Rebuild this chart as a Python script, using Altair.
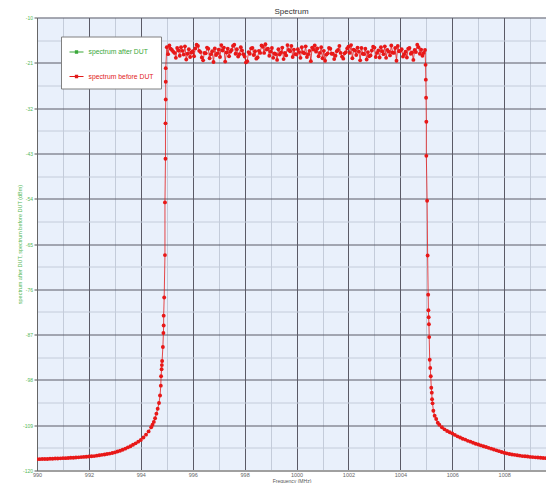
import altair as alt
import pandas as pd

# ---- data ----
series_names = ["spectrum after DUT", "spectrum before DUT"]
series_colors = ["#3aa83a", "#e21b1b"]

left_skirt_freq = [990.0, 990.1, 990.2, 990.3, 990.4, 990.5, 990.6, 990.7, 990.8, 990.9,
                   991.0, 991.1, 991.2, 991.3, 991.4, 991.5, 991.6, 991.7, 991.8, 991.9,
                   992.0, 992.1, 992.2, 992.3, 992.4, 992.5, 992.6, 992.7, 992.8, 992.9,
                   993.0, 993.1, 993.2, 993.3, 993.4, 993.5, 993.6, 993.7, 993.8, 993.9,
                   994.0, 994.1, 994.2, 994.3, 994.4, 994.45, 994.5, 994.55, 994.6, 994.65,
                   994.7, 994.74, 994.77]
left_skirt_db = [-117.25, -117.25, -117.2, -117.2, -117.2, -117.15, -117.15, -117.1, -117.1, -117.05,
                 -117.0, -117.0, -116.95, -116.9, -116.9, -116.85, -116.8, -116.75, -116.7, -116.65,
                 -116.6, -116.55, -116.5, -116.4, -116.3, -116.2, -116.1, -116.0, -115.9, -115.75,
                 -115.6, -115.4, -115.2, -114.95, -114.7, -114.4, -114.1, -113.75, -113.4, -113.0,
                 -112.6, -112.0, -111.3, -110.5, -109.5, -108.9, -108.2, -107.3, -106.2, -105.0,
                 -103.6, -101.8, -99.4]

left_edge_freq = [994.78, 994.80, 994.81, 994.82, 994.85, 994.87, 994.88, 994.88,
                  994.90, 994.93, 994.93, 994.95, 994.95, 994.96, 994.96, 994.96]
left_edge_db = [-97.1, -95.4, -94.4, -93.4, -90.0, -86.6, -84.8, -82.4,
                -78.0, -67.7, -54.9, -44.3, -35.7, -29.9, -25.6, -22.3]

# flat pass band, sampled every 0.05 MHz (two interleaved lists)
flat_freq_a = [995.0, 995.1, 995.2, 995.3, 995.4, 995.5, 995.6, 995.7, 995.8, 995.9,
               996.0, 996.1, 996.2, 996.3, 996.4, 996.5, 996.6, 996.7, 996.8, 996.9,
               997.0, 997.1, 997.2, 997.3, 997.4, 997.5, 997.6, 997.7, 997.8, 997.9,
               998.0, 998.1, 998.2, 998.3, 998.4, 998.5, 998.6, 998.7, 998.8, 998.9,
               999.0, 999.1, 999.2, 999.3, 999.4, 999.5, 999.6, 999.7, 999.8, 999.9,
               1000.0, 1000.1, 1000.2, 1000.3, 1000.4, 1000.5, 1000.6, 1000.7, 1000.8, 1000.9,
               1001.0, 1001.1, 1001.2, 1001.3, 1001.4, 1001.5, 1001.6, 1001.7, 1001.8, 1001.9,
               1002.0, 1002.1, 1002.2, 1002.3, 1002.4, 1002.5, 1002.6, 1002.7, 1002.8, 1002.9,
               1003.0, 1003.1, 1003.2, 1003.3, 1003.4, 1003.5, 1003.6, 1003.7, 1003.8, 1003.9,
               1004.0, 1004.1, 1004.2, 1004.3, 1004.4, 1004.5, 1004.6, 1004.7, 1004.8, 1004.9]
flat_db_a = [-17.2, -16.8, -17.9, -18.6, -17.4, -19.3, -18.1, -17.0, -18.8, -19.6,
             -18.2, -17.5, -16.9, -18.4, -20.4, -18.7, -17.6, -18.9, -20.8, -19.1,
             -17.8, -16.7, -17.3, -18.5, -19.4, -17.9, -16.6, -17.7, -18.9, -18.0,
             -19.5, -20.6, -18.8, -17.4, -18.2, -19.7, -18.6, -17.1, -16.5, -17.6,
             -18.3, -19.8, -18.9, -17.7, -18.5, -20.1, -19.2, -17.9, -16.9, -17.8,
             -19.0, -18.4, -17.2, -18.7, -19.6, -18.1, -17.3, -16.8, -17.5, -18.6,
             -19.9, -20.5, -18.7, -17.6, -18.8, -19.3, -17.9, -18.6, -20.0, -18.4,
             -17.1, -16.7, -17.8, -19.1, -18.3, -17.4, -18.9, -20.2, -19.4, -18.0,
             -17.3, -18.6, -19.7, -18.2, -17.0, -17.9, -19.2, -18.5, -17.4, -16.9,
             -18.1, -19.5, -18.3, -17.6, -18.8, -20.3, -18.4, -17.2, -17.8, -18.6]
flat_freq_b = [995.05, 995.15, 995.25, 995.35, 995.45, 995.55, 995.65, 995.75, 995.85, 995.95,
               996.05, 996.15, 996.25, 996.35, 996.45, 996.55, 996.65, 996.75, 996.85, 996.95,
               997.05, 997.15, 997.25, 997.35, 997.45, 997.55, 997.65, 997.75, 997.85, 997.95,
               998.05, 998.15, 998.25, 998.35, 998.45, 998.55, 998.65, 998.75, 998.85, 998.95,
               999.05, 999.15, 999.25, 999.35, 999.45, 999.55, 999.65, 999.75, 999.85, 999.95,
               1000.05, 1000.15, 1000.25, 1000.35, 1000.45, 1000.55, 1000.65, 1000.75, 1000.85, 1000.95,
               1001.05, 1001.15, 1001.25, 1001.35, 1001.45, 1001.55, 1001.65, 1001.75, 1001.85, 1001.95,
               1002.05, 1002.15, 1002.25, 1002.35, 1002.45, 1002.55, 1002.65, 1002.75, 1002.85, 1002.95,
               1003.05, 1003.15, 1003.25, 1003.35, 1003.45, 1003.55, 1003.65, 1003.75, 1003.85, 1003.95,
               1004.05, 1004.15, 1004.25, 1004.35, 1004.45, 1004.55, 1004.65, 1004.75, 1004.85, 1004.95]
flat_db_b = [-18.9, -17.6, -18.3, -19.8, -18.0, -17.2, -19.0, -20.2, -17.7, -18.5,
             -19.4, -16.6, -18.1, -19.7, -18.6, -17.3, -19.9, -18.2, -17.5, -18.7,
             -19.6, -18.0, -20.7, -17.6, -18.3, -16.9, -18.8, -19.5, -17.2, -18.9,
             -20.9, -18.4, -17.5, -19.1, -20.0, -18.1, -16.8, -18.6, -17.8, -19.3,
             -17.4, -18.7, -20.3, -19.0, -17.3, -18.6, -16.7, -18.2, -19.6, -18.9,
             -17.7, -19.8, -18.5, -17.0, -18.9, -20.6, -17.8, -18.3, -19.4, -17.2,
             -18.1, -19.0, -17.4, -18.8, -20.1, -18.2, -16.9, -19.5, -18.7, -17.5,
             -18.6, -19.9, -18.0, -17.3, -20.4, -18.8, -17.6, -18.4, -19.2, -17.1,
             -19.6, -18.0, -17.2, -18.9, -19.8, -18.3, -16.8, -18.6, -20.5, -18.2,
             -17.7, -18.9, -19.7, -17.4, -18.5, -17.9, -16.6, -18.8, -19.3, -17.9]

right_edge_freq = [1004.97, 1004.98, 1004.99, 1005.0, 1005.0, 1005.03, 1005.05, 1005.07,
                   1005.08, 1005.09, 1005.1, 1005.11, 1005.13, 1005.15, 1005.17, 1005.19,
                   1005.21, 1005.22, 1005.24, 1005.27, 1005.32, 1005.38, 1005.44]
right_edge_db = [-21.5, -25.1, -29.5, -35.3, -43.6, -54.5, -67.8, -77.3,
                 -81.1, -82.8, -84.5, -87.6, -93.1, -95.1, -97.1, -99.9,
                 -101.1, -102.7, -103.7, -105.5, -106.7, -107.5, -108.4]

right_skirt_freq = [1005.5, 1005.6, 1005.7, 1005.8, 1005.9,
                    1006.0, 1006.1, 1006.2, 1006.3, 1006.4, 1006.5, 1006.6, 1006.7, 1006.8, 1006.9,
                    1007.0, 1007.1, 1007.2, 1007.3, 1007.4, 1007.5, 1007.6, 1007.7, 1007.8, 1007.9,
                    1008.0, 1008.1, 1008.2, 1008.3, 1008.4, 1008.5, 1008.6, 1008.7, 1008.8, 1008.9,
                    1009.0, 1009.1, 1009.2, 1009.3, 1009.4, 1009.5, 1009.6, 1009.7, 1009.8, 1009.9,
                    1010.0]
right_skirt_db = [-108.9, -109.5, -110.0, -110.4, -110.7,
                  -111.0, -111.35, -111.7, -112.0, -112.3, -112.5, -112.8, -113.0, -113.25, -113.5,
                  -113.7, -113.9, -114.1, -114.3, -114.5, -114.7, -114.9, -115.1, -115.3, -115.5,
                  -115.7, -115.85, -116.0, -116.1, -116.2, -116.3, -116.4, -116.5, -116.55, -116.6,
                  -116.7, -116.75, -116.8, -116.85, -116.9, -116.95, -117.0, -117.0, -117.05, -117.1,
                  -117.1]

x_grid_values = [990, 991, 992, 993, 994, 995, 996, 997, 998, 999,
                 1000, 1001, 1002, 1003, 1004, 1005, 1006, 1007, 1008, 1009]
y_grid_values = [-120, -114.5, -109, -103.5, -98, -92.5, -87, -81.5, -76, -70.5, -65,
                 -59.5, -54, -48.5, -43, -37.5, -32, -26.5, -21, -15.5, -10]

flat_freq, flat_db = [], []
for fa, da, fb, db in zip(flat_freq_a, flat_db_a, flat_freq_b, flat_db_b):
    flat_freq += [fa, fb]
    flat_db += [da, db]

freq = left_skirt_freq + left_edge_freq + flat_freq + right_edge_freq + right_skirt_freq
dbm = left_skirt_db + left_edge_db + flat_db + right_edge_db + right_skirt_db
df = pd.DataFrame({
    "freq": freq,
    "dbm": dbm,
    "i": list(range(len(freq))),
    "series": ["spectrum before DUT"] * len(freq),
})

major_y = "(datum.value + 120) % 11 == 0"
major_x = "datum.value % 2 == 0"

x_enc = alt.X(
    "freq:Q",
    scale=alt.Scale(domain=[990, 1009.61], nice=False, zero=False),
    title="Frequency (MHz)",
    axis=alt.Axis(
        values=x_grid_values,
        labelExpr=f"{major_x} ? '' + datum.value : ''",
        grid=True,
        gridColor={"condition": {"test": major_x, "value": "#5a5a66"}, "value": "#c4ccda"},
        gridWidth=1,
        ticks=False,
        domainColor="#a0a0a0",
        domainWidth=2,
        labelColor="#666666",
        labelFontSize=5.5,
        labelPadding=2,
        labelFlush=False,
        titleColor="#555555",
        titleFontSize=5,
        titleFontWeight="normal",
        titlePadding=0.5,
    ),
)
y_enc = alt.Y(
    "dbm:Q",
    scale=alt.Scale(domain=[-120, -10], nice=False, zero=False),
    title="spectrum after DUT, spectrum before DUT (dBm)",
    axis=alt.Axis(
        values=y_grid_values,
        labelExpr=f"{major_y} ? '' + datum.value : ''",
        grid=True,
        gridColor={"condition": {"test": major_y, "value": "#5a5a66"}, "value": "#c4ccda"},
        gridWidth=1,
        ticks=True,
        tickSize=3,
        tickColor="#555555",
        tickOpacity={"condition": {"test": major_y, "value": 1}, "value": 0},
        domainColor="#666666",
        domainWidth=1,
        labelColor="#55b855",
        labelFontSize=5,
        labelPadding=1.5,
        labelFlush=False,
        titleColor="#55b855",
        titleFontSize=5.5,
        titleFontWeight="normal",
        titlePadding=0,
    ),
)

base = alt.Chart(df)

line = base.mark_line(strokeWidth=0.8, clip=True).encode(
    x=x_enc,
    y=y_enc,
    order="i:Q",
    color=alt.Color(
        "series:N",
        scale=alt.Scale(domain=series_names, range=series_colors),
        legend=alt.Legend(
            title=None,
            orient="none",
            legendX=24,
            legendY=19,
            fillColor="white",
            strokeColor="#808080",
            padding=7.5,
            rowPadding=12.5,
            symbolType="M-1,0H1M-0.15,-0.15H0.15V0.15H-0.15Z",
            symbolSize=196,
            symbolStrokeWidth=1.2,
            labelFontSize=6.8,
            labelOffset=4,
            labelColor=alt.ExprRef("datum.value == 'spectrum after DUT' ? '#3aa83a' : '#e21b1b'"),
        ),
    ),
)

points = base.mark_circle(size=15, opacity=1, color="#e81818", clip=True).encode(
    x=x_enc,
    y=y_enc,
)

chart = (
    alt.layer(line, points)
    .properties(
        width=509,
        height=453,
        padding={"left": 29, "top": 9.5, "right": 0, "bottom": 12},
        autosize=alt.AutoSizeParams(type="none"),
        title=alt.Title("Spectrum", fontSize=8, fontWeight="normal", color="#333333",
                        offset=2, dy=2.5, anchor="middle"),
    )
    .configure(font="Liberation Sans", background="white")
    .configure_view(fill="#e9f0fb", stroke=None)
)

chart.save("out.html", embed_options={"renderer": "svg", "actions": False})
